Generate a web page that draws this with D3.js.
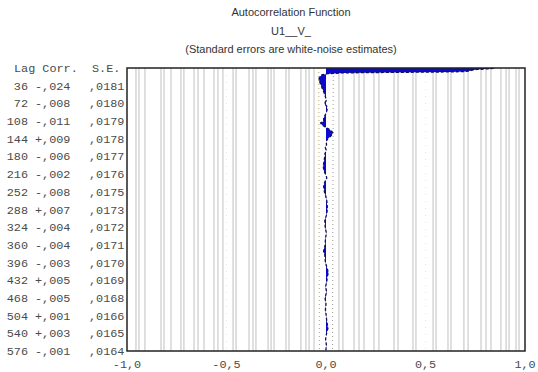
<!DOCTYPE html>
<html>
<head>
<meta charset="utf-8">
<script src="https://cdn.jsdelivr.net/npm/d3@7"></script>
<style>
  body { margin: 0; background: #fff; }
  svg { display: block; }
</style>
</head>
<body>
<svg id="chart" width="538" height="372"></svg>
<script>
// table printed on the left
var lagLabels = [36, 72, 108, 144, 180, 216, 252, 288, 324, 360, 396, 432, 468, 504, 540, 576];
var corrLabels = ["-,024", "-,008", "-,011", "+,009", "-,006", "-,002", "-,008", "+,007",
                  "-,004", "-,004", "-,003", "+,005", "-,005", "+,001", "+,003", "-,001"];
var seLabels = [",0181", ",0180", ",0179", ",0178", ",0177", ",0176", ",0175", ",0173",
                ",0172", ",0171", ",0170", ",0169", ",0168", ",0166", ",0165", ",0164"];
var seValues = [0.0181, 0.0180, 0.0179, 0.0178, 0.0177, 0.0176, 0.0175, 0.0173,
                0.0172, 0.0171, 0.0170, 0.0169, 0.0168, 0.0166, 0.0165, 0.0164];

// autocorrelation
var acfLag = [0, 1, 2, 3, 4, 5, 6, 7, 8, 9, 10, 12, 14, 18, 22, 26, 30, 36, 42, 48, 54, 60, 66, 72, 78, 84, 90, 96,
              102, 108, 112, 116, 120, 124, 128, 132, 136, 140, 144, 150, 156, 162, 168, 174, 180, 190, 200,
              210, 216, 224, 232, 240, 246, 252, 260, 270, 280, 288, 300, 310, 324, 336, 348, 360, 368, 374,
              380, 396, 405, 417, 425, 432, 445, 456, 468, 480, 492, 504, 516, 529, 540, 552, 564, 576];
var acfVal = [0.84, 0.84, 0.80, 0.76, 0.74, 0.73, 0.72, 0.70, 0.62, 0.30, 0.08, 0.0, -0.02, -0.032, -0.035, -0.034, -0.030,
              -0.024, -0.018, -0.012, -0.006, -0.002, 0.002, -0.008, 0.004, 0.006, 0.002, -0.004,
              -0.012, -0.011, -0.027, -0.020, -0.004, 0.012, 0.028, 0.034, 0.030, 0.020, 0.009, 0.0,
              0.003, -0.004, 0.002, -0.005, -0.006, -0.010, -0.014,
              -0.010, -0.002, 0.004, -0.006, -0.012, -0.010, -0.008, -0.002, 0.004, 0.006, 0.007,
              0.002, -0.006, -0.004, 0.002, -0.003, -0.004, -0.010, -0.012,
              -0.006, -0.003, 0.004, 0.012, 0.006, 0.005, -0.002, 0.003, -0.005, 0.0, -0.003, 0.001,
              0.004, 0.010, 0.003, -0.002, 0.002, -0.001];

// light vertical grid lines in the plot area
var gridValues = [-0.955, -0.94, -0.91, -0.829, -0.814, -0.779, -0.729, -0.714, -0.663, -0.643, -0.613,
                  -0.563, -0.543, -0.518, -0.467, -0.452, -0.387, -0.367, -0.352, -0.291, -0.276, -0.261,
                  -0.201, -0.186, -0.126, -0.101, -0.085, -0.06,
                  0.065, 0.085, 0.141, 0.166, 0.191, 0.241, 0.266, 0.342, 0.362, 0.437, 0.452, 0.538,
                  0.553, 0.613, 0.628, 0.693, 0.714, 0.779, 0.804, 0.829, 0.879, 0.905, 0.92, 0.955, 0.97];
var xTicks = [-1, -0.5, 0, 0.5, 1];
var xTickLabels = ["-1,0", "-0,5", "0,0", "0,5", "1,0"];

var svg = d3.select("#chart");
var plotLeft = 127, plotRight = 525, plotTop = 68, plotBottom = 351;

var x = d3.scaleLinear().domain([-1, 1]).range([plotLeft, plotRight]);
var y = d3.scaleLinear().domain([0, 576]).range([plotTop, plotBottom]);

// titles
var titles = ["Autocorrelation Function", "U1__V_", "(Standard errors are white-noise estimates)"];
svg.selectAll("text.title")
  .data(titles)
  .enter()
  .append("text")
  .attr("class", "title")
  .attr("x", 291)
  .attr("y", function (d, i) { return 16 + i * 18.5; })
  .attr("text-anchor", "middle")
  .style("font-family", "Liberation Sans, Arial, sans-serif")
  .style("font-size", "11px")
  .style("fill", "#333")
  .text(function (d) { return d; });

// grid
svg.selectAll("line.grid")
  .data(gridValues)
  .enter()
  .append("line")
  .attr("class", "grid")
  .attr("x1", function (d) { return x(d); })
  .attr("x2", function (d) { return x(d); })
  .attr("y1", plotTop)
  .attr("y2", plotBottom)
  .attr("stroke", "#cfcfcf")
  .attr("stroke-width", 1.3);

svg.selectAll("line.half")
  .data([-0.5, 0.5])
  .enter()
  .append("line")
  .attr("x1", function (d) { return x(d); })
  .attr("x2", function (d) { return x(d); })
  .attr("y1", plotTop)
  .attr("y2", plotBottom)
  .attr("stroke", "#e4e4e4")
  .attr("stroke-dasharray", "1,6");

// +/- 2 standard error bands
var seLine = d3.line()
  .x(function (d) { return x(d.v); })
  .y(function (d) { return y(d.lag); });
var sePts = [{ lag: 0, se: seValues[0] }].concat(lagLabels.map(function (l, i) { return { lag: l, se: seValues[i] }; }));
svg.append("path")
  .attr("d", seLine(sePts.map(function (d) { return { lag: d.lag, v: -2 * d.se }; })))
  .attr("fill", "none")
  .attr("stroke", "#b8a860")
  .attr("stroke-dasharray", "1,3");
svg.append("path")
  .attr("d", seLine(sePts.map(function (d) { return { lag: d.lag, v: 2 * d.se }; })))
  .attr("fill", "none")
  .attr("stroke", "#999")
  .attr("stroke-dasharray", "1,3");

// autocorrelation area
var acf = acfLag.map(function (l, i) { return { lag: l, v: acfVal[i] }; });
var area = d3.area()
  .y(function (d) { return y(d.lag); })
  .x0(x(0))
  .x1(function (d) { return x(d.v); });
svg.append("path")
  .attr("d", area(acf))
  .attr("fill", "#0a0ad0");

var line = d3.line()
  .x(function (d) { return x(d.v); })
  .y(function (d) { return y(d.lag); });
svg.append("path")
  .attr("d", line(acf))
  .attr("fill", "none")
  .attr("stroke", "#10104a")
  .attr("stroke-width", 1.3)
  .attr("stroke-dasharray", "3,2");

// frame
svg.append("rect")
  .attr("x", plotLeft)
  .attr("y", plotTop)
  .attr("width", plotRight - plotLeft)
  .attr("height", plotBottom - plotTop)
  .attr("fill", "none")
  .attr("stroke", "#222")
  .attr("stroke-width", 1.5);

// left table
var mono = "Liberation Mono, Courier New, monospace";
var tbl = svg.append("g")
  .style("font-family", mono)
  .style("font-size", "11.8px")
  .style("fill", "#4a4a4a");

tbl.append("text").attr("x", 14).attr("y", 72).text("Lag Corr.");
tbl.append("text").attr("x", 92).attr("y", 72).text("S.E.");

tbl.selectAll("text.lag")
  .data(lagLabels)
  .enter()
  .append("text")
  .attr("class", "lag")
  .attr("x", 28)
  .attr("y", function (d) { return y(d) + 4; })
  .attr("text-anchor", "end")
  .text(function (d) { return d; });

tbl.selectAll("text.corr")
  .data(corrLabels)
  .enter()
  .append("text")
  .attr("class", "corr")
  .attr("x", 35)
  .attr("y", function (d, i) { return y(lagLabels[i]) + 4; })
  .text(function (d) { return d; });

tbl.selectAll("text.se")
  .data(seLabels)
  .enter()
  .append("text")
  .attr("class", "se")
  .attr("x", 89)
  .attr("y", function (d, i) { return y(lagLabels[i]) + 4; })
  .text(function (d) { return d; });

// x tick labels
tbl.selectAll("text.xt")
  .data(xTicks)
  .enter()
  .append("text")
  .attr("class", "xt")
  .attr("x", function (d) { return x(d); })
  .attr("y", 368)
  .attr("text-anchor", "middle")
  .text(function (d, i) { return xTickLabels[i]; });
</script>
</body>
</html>
